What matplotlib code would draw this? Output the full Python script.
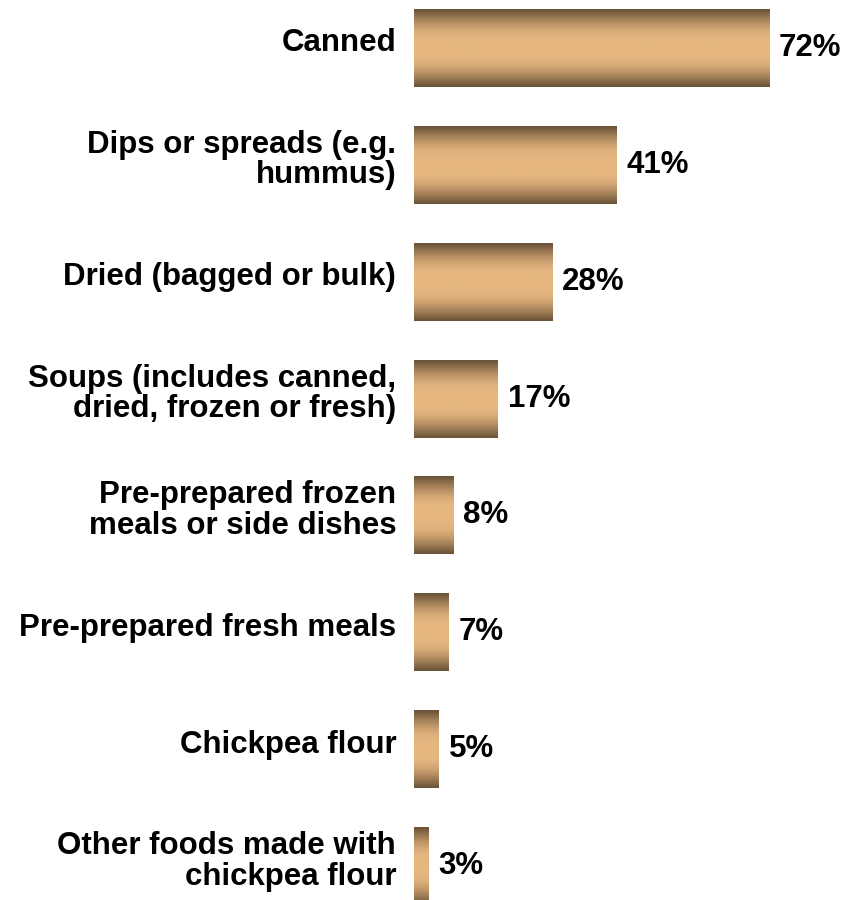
import matplotlib

matplotlib.use("Agg")
import matplotlib.pyplot as plt
import numpy as np

categories = [
    "Canned",
    "Dips or spreads (e.g.\nhummus)",
    "Dried (bagged or bulk)",
    "Soups (includes canned,\ndried, frozen or fresh)",
    "Pre-prepared frozen\nmeals or side dishes",
    "Pre-prepared fresh meals",
    "Chickpea flour",
    "Other foods made with\nchickpea flour",
]
shares = [72, 41, 28, 17, 8, 7, 5, 3]

plt.rcParams["font.family"] = ["Liberation Sans", "DejaVu Sans"]

fig = plt.figure(figsize=(8.46, 9.0), dpi=100)
ax = fig.add_axes([414 / 846, 0.0, 1 - 414 / 846, 1.0])

# vertical shading: dark edges, light tan centre
dark = np.array([0x6c, 0x54, 0x38]) / 255
light = np.array([0xe6, 0xb6, 0x80]) / 255
t = np.abs(np.linspace(-1, 1, 256))
s = np.clip((1 - t - 0.02) / 0.8, 0, 1)
w = np.sin(np.pi / 2 * s)
grad = dark[None, :] * (1 - w[:, None]) + light[None, :] * w[:, None]
grad = grad[:, None, :]

bar_h = 0.667
for i, (label, v) in enumerate(zip(categories, shares)):
    ax.imshow(grad, extent=[0, v, i + bar_h / 2, i - bar_h / 2],
              aspect="auto", interpolation="bilinear", zorder=2)
    ax.text(v + 2.0, i, f"{v}%", ha="left", va="center",
            fontsize=22.5, fontweight="bold", color="black")
    ax.text(-3.6, i - 0.04, label, ha="right", va="center", fontsize=22.5,
            fontweight="bold", color="black", linespacing=1.03,
            clip_on=False)

ax.set_xlim(0, 87.6)
ax.set_ylim(7.29, -0.41)
ax.set_axis_off()

fig.savefig("out.png", dpi=100, facecolor="white")
